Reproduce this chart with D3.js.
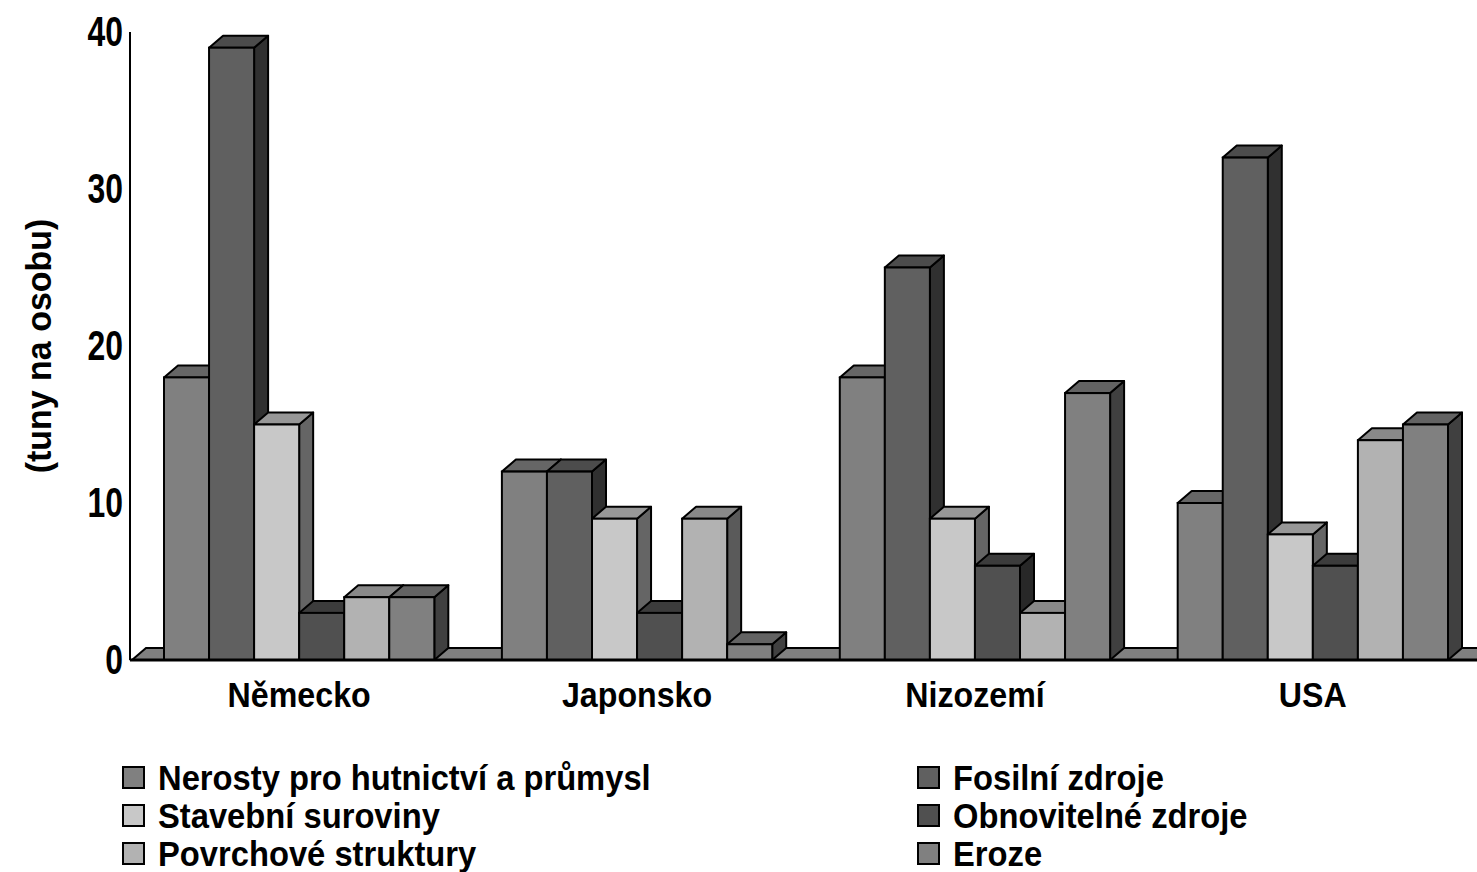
<!DOCTYPE html>
<html>
<head>
<meta charset="utf-8">
<script src="https://cdn.jsdelivr.net/npm/d3@7"></script>
<style>
  html, body { margin: 0; padding: 0; background: #fff; }
  svg { display: block; }
  text { font-family: "Liberation Sans", Arial, sans-serif; font-weight: bold; fill: #000; }
</style>
</head>
<body>
<svg id="chart" width="1477" height="872"></svg>
<script>
// ---- data ----
const countries = ["Německo", "Japonsko", "Nizozemí", "USA"];
const seriesNames = [
  "Nerosty pro hutnictví a průmysl",
  "Fosilní zdroje",
  "Stavební suroviny",
  "Obnovitelné zdroje",
  "Povrchové struktury",
  "Eroze"
];
const nerosty     = [18, 12, 18, 10];
const fosilni     = [39, 12, 25, 32];
const stavebni    = [15, 9, 9, 8];
const obnovitelne = [3, 3, 6, 6];
const povrchove   = [4, 9, 3, 14];
const eroze       = [4, 1, 17, 15];
const yTicks = [0, 10, 20, 30, 40];
const yTitle = "(tuny na osobu)";

const seriesValues = [nerosty, fosilni, stavebni, obnovitelne, povrchove, eroze];
const frontColors = ["#808080", "#606060", "#c8c8c8", "#505050", "#b2b2b2", "#808080"];
const topColors   = ["#666666", "#4c4c4c", "#979797", "#3c3c3c", "#898989", "#636363"];
const sideColors  = ["#404040", "#303030", "#656565", "#282828", "#5a5a5a", "#404040"];

// ---- layout ----
const svg = d3.select("#chart");
const baseY = 660, topY = 32, axisX = 130;
const dx = 14, dy = 12;

const y = d3.scaleLinear().domain([0, 40]).range([baseY, topY]);
const x0 = d3.scaleBand().domain(countries).range([164, 1448]).paddingInner(0.2).paddingOuter(0);
const x1 = d3.scaleBand().domain(d3.range(seriesNames.length)).range([0, x0.bandwidth()]);

// condensed text helper (narrow bold look)
function narrowText(parent, x, yy, str, size, sx, anchor) {
  return parent.append("g").attr("transform", `translate(${x},${yy}) scale(${sx},1)`)
    .append("text").attr("font-size", size).attr("text-anchor", anchor || "start").text(str);
}

// floor
svg.append("polygon")
  .attr("points", [[axisX + 2, baseY], [axisX + 2 + dx, baseY - dy], [1490, baseY - dy], [1490, baseY]].map(p => p.join(",")).join(" "))
  .attr("fill", "#808080").attr("stroke", "#000").attr("stroke-width", 2);

// bars
const g = svg.append("g");
countries.forEach((c, ci) => {
  seriesValues.forEach((vals, si) => {
    const v = vals[ci];
    const xl = x0(c) + x1(si), xr = xl + x1.bandwidth();
    const yt = y(v);
    g.append("polygon")
      .attr("points", [[xr, yt], [xr + dx, yt - dy], [xr + dx, baseY - dy], [xr, baseY]].map(p => p.join(",")).join(" "))
      .attr("fill", sideColors[si]).attr("stroke", "#000").attr("stroke-width", 2).attr("stroke-linejoin", "round");
    g.append("polygon")
      .attr("points", [[xl, yt], [xl + dx, yt - dy], [xr + dx, yt - dy], [xr, yt]].map(p => p.join(",")).join(" "))
      .attr("fill", topColors[si]).attr("stroke", "#000").attr("stroke-width", 2).attr("stroke-linejoin", "round");
    g.append("rect")
      .attr("x", xl).attr("y", yt).attr("width", x1.bandwidth()).attr("height", baseY - yt)
      .attr("fill", frontColors[si]).attr("stroke", "#000").attr("stroke-width", 2);
  });
});

// base line
svg.append("line").attr("x1", axisX).attr("x2", 1477).attr("y1", baseY).attr("y2", baseY)
  .attr("stroke", "#000").attr("stroke-width", 3);

// y axis
const tickSx = 0.76;
const yAxis = svg.append("g").attr("transform", `translate(${axisX},0)`)
  .call(d3.axisLeft(y).tickValues(yTicks).tickSize(0).tickPadding(0));
yAxis.select(".domain").remove();
yAxis.selectAll("text")
  .attr("font-size", 42).attr("font-family", null)
  .attr("x", -7 / tickSx).attr("dy", "0.31em")
  .attr("transform", `scale(${tickSx},1)`);
svg.append("line").attr("x1", axisX).attr("x2", axisX).attr("y1", topY).attr("y2", baseY)
  .attr("stroke", "#000").attr("stroke-width", 2);

// y title
svg.append("g").attr("transform", "translate(51,346) rotate(-90) scale(0.97,1)")
  .append("text").attr("text-anchor", "middle").attr("font-size", 35).text(yTitle);

// category labels
countries.forEach(c => {
  narrowText(svg, x0(c) + x0.bandwidth() / 2, 707, c, 35, 0.92, "middle");
});

// legend
const legendPos = [[123, 0], [918, 0], [123, 1], [918, 1], [123, 2], [918, 2]];
seriesNames.forEach((name, i) => {
  const [lx, row] = legendPos[i];
  const cy = 778 + row * 38;
  svg.append("rect").attr("x", lx).attr("y", cy - 11).attr("width", 21).attr("height", 21)
    .attr("fill", frontColors[i]).attr("stroke", "#000").attr("stroke-width", 2);
  narrowText(svg, lx + 35, cy + 12, name, 35, 0.935, "start");
});
</script>
</body>
</html>
